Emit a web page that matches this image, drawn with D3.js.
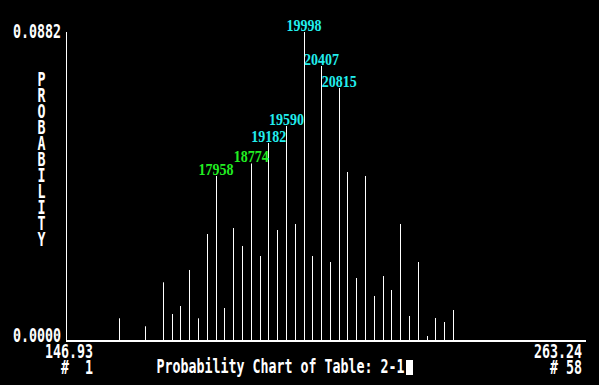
<!DOCTYPE html>
<html>
<head>
<meta charset="utf-8">
<script src="https://cdn.jsdelivr.net/npm/d3@7"></script>
<style>
  body { margin: 0; background: #000; }
  svg { display: block; }
  text { white-space: pre; }
</style>
</head>
<body>
<div id="chart"></div>
<script>
// canvas size
let svgWidth = 599;
let svgHeight = 385;

// chart data: probability of each of the 58 bins (# 1 .. # 58)
let binIndex = d3.range(1, 59);
let probValues = [
  0, 0, 0, 0, 0, 0.00648, 0, 0, 0.00420, 0,
  0.01675, 0.00771, 0.00999, 0.02027, 0.00648, 0.03054, 0.04710, 0.00942, 0.03225, 0.02712,
  0.05067, 0.02426, 0.05652, 0.03168, 0.06137, 0.03340, 0.0882, 0.02426, 0.07850, 0.02255,
  0.07222, 0.04824, 0.01798, 0.04710, 0.01285, 0.01855, 0.01456, 0.03340, 0.00714, 0.02255,
  0.00143, 0.00657, 0.00542, 0.00885, 0, 0, 0, 0, 0, 0,
  0, 0, 0, 0, 0, 0, 0, 0
];

// labelled peaks
let peakBins = [17, 21, 23, 25, 27, 29, 31];
let peakLabels = ["17958", "18774", "19182", "19590", "19998", "20407", "20815"];
let peakGroup = ["g", "g", "c", "c", "c", "c", "c"];

// axis texts
let yTickLabels = ["0.0000", "0.0882"];
let xTickLabels = ["146.93", "263.24"];
let xBinLabels = ["#  1", "# 58"];
let yTitle = "PROBABILITY";
let chartTitle = "Probability Chart of Table: 2-1";

let svg = d3.select("#chart")
  .append("svg")
  .attr("width", svgWidth)
  .attr("height", svgHeight)
  .style("background", "#000");

// scales
let xScale = d3.scaleLinear()
  .domain([0, 59])
  .range([66.5, 585.5]);

let yScale = d3.scaleLinear()
  .domain([0, d3.max(probValues)])
  .range([341, 32]);

let monoFont = "'DejaVu Sans Mono', monospace";

// tall, narrow text like the old screen font
function tallText(x, y, str, anchor, color, size, sy, family, weight) {
  return svg.append("text")
    .attr("transform", `translate(${x},${y}) scale(1,${sy})`)
    .attr("text-anchor", anchor)
    .attr("fill", color)
    .attr("xml:space", "preserve")
    .style("font-family", family || monoFont)
    .style("font-weight", weight || "bold")
    .style("font-size", size + "px")
    .text(str);
}

// y axis line
svg.append("rect")
  .attr("x", Math.floor(xScale(0)))
  .attr("y", yScale.range()[1])
  .attr("width", 1)
  .attr("height", yScale.range()[0] - yScale.range()[1] + 1)
  .attr("fill", "#fff");

// x axis line
svg.append("rect")
  .attr("x", Math.floor(xScale(0)))
  .attr("y", yScale(0) - 1)
  .attr("width", xScale(59) - xScale(0) + 1)
  .attr("height", 2)
  .attr("fill", "#fff");

// bars (thin spikes)
svg.selectAll("rect.bar")
  .data(binIndex.filter((d, i) => probValues[i] > 0))
  .enter()
  .append("rect")
  .attr("class", "bar")
  .attr("x", d => Math.floor(xScale(d)))
  .attr("y", d => yScale(probValues[d - 1]))
  .attr("width", 1)
  .attr("height", d => yScale(0) - yScale(probValues[d - 1]))
  .attr("fill", "#fff");

// peak labels
peakBins.forEach(function(b, i) {
  tallText(xScale(b), yScale(probValues[b - 1]) - 1, peakLabels[i], "middle",
    peakGroup[i] === "g" ? "#22ee22" : "#22eeee", 14, 1.15,
    "'Liberation Serif', serif", "bold");
});

// y tick labels
tallText(61, yScale(0) + 1, yTickLabels[0], "end", "#fff", 13.3, 1.4);
tallText(61, yScale(d3.max(probValues)) + 6, yTickLabels[1], "end", "#fff", 13.3, 1.4);

// x tick labels: value on the first row, bin number on the second
[93, 582].forEach(function(x, i) {
  let t = tallText(x, 358, "", "end", "#fff", 13.3, 1.4);
  t.append("tspan").attr("x", 0).attr("y", 0).text(xTickLabels[i]);
  t.append("tspan").attr("x", 0).attr("y", 15.5 / 1.4).text(xBinLabels[i]);
});

// vertical axis title, one letter per row, in one text element
let yT = tallText(41.5, 86, "", "middle", "#fff", 13.3, 1.4);
yTitle.split("").forEach(function(ch, i) {
  yT.append("tspan").attr("x", 0).attr("y", i * 16 / 1.4).text(ch);
});

// chart title and cursor block
tallText(156.5, 373, chartTitle, "start", "#fff", 13.3, 1.4);
svg.append("rect")
  .attr("x", 406)
  .attr("y", 360)
  .attr("width", 7)
  .attr("height", 15)
  .attr("fill", "#fff");
</script>
</body>
</html>
